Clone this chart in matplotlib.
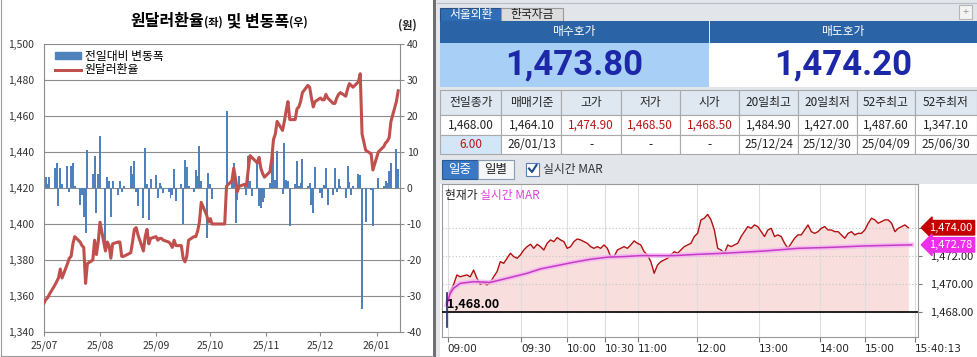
import numpy as np
import pandas as pd
import matplotlib
matplotlib.use('Agg')
import matplotlib.pyplot as plt
import matplotlib.dates as mdates
import matplotlib.transforms as mtransforms
from matplotlib.patches import Rectangle, Patch
from matplotlib.lines import Line2D
from matplotlib.ticker import FuncFormatter

plt.rcParams['font.family'] = ['Noto Sans CJK KR', 'DejaVu Sans']
plt.rcParams['axes.unicode_minus'] = False

# ---- left chart: daily USD/KRW close and day-over-day change, per month ----
rate_jul = [1356, 1358, 1359, 1361, 1366, 1368, 1370, 1375, 1370, 1378, 1381, 1382,
            1389, 1393, 1390, 1388, 1387, 1367, 1378, 1380, 1391, 1383, 1390]
rate_aug = [1401, 1385, 1390, 1388, 1381, 1389, 1390, 1390, 1382, 1382,
            1384, 1390, 1397, 1398, 1394, 1385, 1393, 1397, 1389, 1392]
rate_sep = [1393, 1391, 1392, 1392, 1391, 1390, 1389, 1387, 1391, 1388, 1388,
            1381, 1379, 1382, 1391, 1393, 1393, 1396, 1401, 1412, 1405, 1401]
rate_oct = [1403, 1400, 1400, 1400, 1400, 1400, 1400, 1421, 1424, 1431, 1425, 1418,
            1421, 1422, 1421, 1430, 1438, 1437, 1434, 1437, 1431, 1428, 1426]
rate_nov = [1429, 1436, 1447, 1450, 1457, 1452, 1457, 1463, 1468, 1458,
            1458, 1464, 1465, 1468, 1473, 1477, 1476, 1470, 1465, 1468]
rate_dec = [1470, 1469, 1469, 1472, 1470, 1467, 1467, 1470, 1472, 1473, 1471,
            1475, 1478, 1477, 1476, 1479, 1483.5, 1450, 1441, 1439, 1430]
rate_jan = [1440, 1443, 1445, 1446, 1448, 1457, 1468, 1474]

chg_jul = [6, 3, 1, 3, 5.5, 7, -5, 5.5, 1, 6, -1, 6, 7, 0.5, -4.6, -2, -8, -12.5,
           10.6, 4, 8.8, -7, 4]
chg_aug = [14.5, -17, 3, 2, -8, 2, -2, 2, -1, 0.5, 6, 4, 7.4, -1, -5, -8.3, 11, 1,
           -8.8, 2.5]
chg_sep = [3.7, -2.8, 1.4, 0.5, -1.4, -1, -2.8, -1.9, 5.3, -3.7, 1, -10, 7.9, 5.8,
           0.5, -1, 5.1, 3.2, 11.8, 2, -13.9, 4.2]
chg_oct = [1, -3, 0, 0, 0, 0, 0, 21.3, 3, 7, -9.7, -3.2, 3.4, 0.5, -1.9, 8.8, 2,
           -2.3, 7.9, -5, -5.6, -4, -2.8]
chg_nov = [1.5, 8.8, 11.6, 2.3, 10.3, -1.6, 12.5, 2.3, 1.9, -10.5, 1.2, 7.4, 0.5,
           1.4, 8, 0.5, 1.4, -4.6, -7, 5.8]
chg_dec = [-1.4, -2.8, 0.8, 5.6, -4.6, -1.9, 5.6, -1, 2.5, 0.5, -2.8, 6, 1.6, -1.9,
           0.5, 3.9, 3.7, -33.5, -9.5, -0.5, -10.5]
chg_jan = [2.8, 0.5, 1.9, 1.5, 4.6, 6.9, 10.8, 5.3]

market_closed = ['2025-08-15', '2025-12-25', '2025-12-31', '2026-01-01']

# ---- right panel: quote board ----
bid_price = 1473.80
ask_price = 1474.20
table_heads = ['전일종가', '매매기준', '고가', '저가', '시가', '20일최고', '20일최저', '52주최고', '52주최저']
table_vals = ['1,468.00', '1,464.10', '1,474.90', '1,468.50', '1,468.50', '1,484.90', '1,427.00', '1,487.60', '1,347.10']
table_dates = ['6.00', '26/01/13', '-', '-', '-', '25/12/24', '25/12/30', '25/04/09', '25/06/30']

# ---- right panel: intraday ticks (one sample every few ticks) ----
prev_close = 1468.00
prices = [1468.50, 1469.44, 1469.92, 1470.63, 1470.50, 1470.57, 1470.63, 1470.50, 1470.98, 1470.39,
          1469.95, 1470.10, 1469.92, 1470.10, 1470.50, 1470.86, 1471.58, 1471.46, 1471.82, 1472.18,
          1471.94, 1471.82, 1472.06, 1472.41, 1472.65, 1472.82, 1472.53, 1472.82, 1472.65, 1472.41,
          1472.89, 1473.13, 1473.01, 1473.30, 1473.13, 1473.01, 1472.53, 1472.65, 1473.01, 1473.20,
          1473.13, 1473.01, 1472.89, 1472.65, 1472.53, 1472.65, 1472.53, 1472.77, 1472.53, 1471.94,
          1471.94, 1472.41, 1472.53, 1472.65, 1472.53, 1472.77, 1473.06, 1472.89, 1472.77, 1472.29,
          1472.06, 1471.58, 1470.75, 1471.34, 1471.58, 1471.70, 1471.82, 1472.06, 1472.29,
          1472.18, 1472.41, 1472.65, 1472.77, 1472.89, 1473.37, 1473.60, 1474.56, 1474.68, 1474.95,
          1474.56, 1473.84, 1472.53, 1472.41, 1472.18, 1472.77, 1472.65, 1472.77, 1472.89, 1473.37,
          1473.72, 1474.08, 1473.96, 1474.20, 1474.08, 1473.72, 1473.37, 1473.84, 1473.96, 1473.37,
          1473.49, 1473.37, 1472.89, 1472.53, 1472.89, 1473.25, 1473.49, 1473.49, 1473.84, 1474.20,
          1473.72, 1473.60, 1473.72, 1473.96, 1474.08, 1473.84, 1473.84, 1473.72, 1473.72, 1473.49,
          1473.25, 1473.60, 1473.72, 1473.49, 1473.60, 1473.60, 1473.84, 1474.32, 1474.68, 1474.56,
          1474.32, 1474.44, 1474.56, 1474.56, 1474.32, 1473.72, 1473.96, 1474.08, 1474.20, 1474.00]
mar_idx = [0, 1, 2, 4, 8, 13, 18, 24, 28, 33, 38, 43, 48, 53, 58, 63, 68, 75, 83, 95, 105, 115, 125, 139]
mar_vals = [1468.50, 1469.32, 1469.68, 1470.03, 1470.15, 1470.10, 1470.39, 1470.75, 1471.06, 1471.30,
            1471.54, 1471.75, 1471.90, 1471.94, 1472.01, 1472.01, 1472.01, 1472.10, 1472.18, 1472.34,
            1472.53, 1472.60, 1472.70, 1472.78]
first_tick_range = [1466.95, 1469.35]
time_labels = ['09:00', '09:30', '10:00', '10:30', '11:00', '12:00', '13:00', '14:00', '15:00', '15:40:13']
time_idx = [0.3, 22.2, 36, 47.2, 57.1, 74.7, 93.4, 111.6, 125.1, 140]

rate = rate_jul + rate_aug + rate_sep + rate_oct + rate_nov + rate_dec + rate_jan
change = chg_jul + chg_aug + chg_sep + chg_oct + chg_nov + chg_dec + chg_jan
days = pd.bdate_range('2025-07-01', '2026-01-13')
days = days[~days.isin(pd.to_datetime(market_closed))]

W, H = 978, 357
fig = plt.figure(figsize=(W / 100, H / 100), dpi=100)
fig.patch.set_facecolor('white')


def fx(x):
    return x / W


def fy(y):
    return 1 - y / H


def rect(x0, y0, x1, y1, fc, ec='none', lw=0.8, z=-1):
    fig.add_artist(Rectangle((fx(x0), fy(y1)), (x1 - x0) / W, (y1 - y0) / H,
                             transform=fig.transFigure, facecolor=fc, edgecolor=ec,
                             linewidth=lw, zorder=z))


def label(x, y, s, **kw):
    kw.setdefault('ha', 'center')
    kw.setdefault('va', 'center')
    return fig.text(fx(x), fy(y), s, zorder=3, **kw)


def run_text(x, y, parts, center=False):
    # several pieces of text set one after another on one baseline
    r = fig.canvas.get_renderer()
    items = []
    for s, kw in parts:
        t = fig.text(0, fy(y), s, ha='left', va='baseline', zorder=3, **kw)
        items.append((t, t.get_window_extent(r).width))
    total = sum(w for _, w in items)
    cur = x - total / 2 if center else x
    for t, w in items:
        t.set_x(fx(cur))
        cur += w


# ================= left: Excel chart =================
ax_bar = fig.add_axes([fx(44), fy(332), (400 - 44) / W, (332 - 44) / H])
ax_rate = ax_bar.twinx()
ax_bar.yaxis.tick_right()
ax_rate.yaxis.tick_left()

ax_bar.bar(days, change, width=1.1, color='#4f81bd', zorder=2)
ax_bar.set_ylim(-40, 40)
ax_bar.set_yticks(np.arange(-40, 41, 10))
ax_bar.grid(axis='y', color='#8c8c8c', lw=0.8)
ax_bar.set_axisbelow(True)

ax_rate.plot(days, rate, color='#c0504d', lw=2.2, solid_joinstyle='round')
ax_rate.set_ylim(1340, 1500)
ax_rate.set_yticks(np.arange(1340, 1501, 20))
ax_rate.yaxis.set_major_formatter(FuncFormatter(lambda v, p: f'{v:,.0f}'))

ax_bar.set_xlim(pd.Timestamp('2025-07-01'), pd.Timestamp('2026-01-14'))
ax_bar.xaxis.set_major_locator(mdates.MonthLocator())
ax_bar.xaxis.set_major_formatter(mdates.DateFormatter('%y/%m'))

for a in (ax_bar, ax_rate):
    for s in a.spines.values():
        s.set_visible(False)
for side in ('left', 'right', 'bottom'):
    ax_bar.spines[side].set_visible(True)
    ax_bar.spines[side].set_color('#8c8c8c')
    ax_bar.spines[side].set_linewidth(0.8)
ax_bar.tick_params(axis='y', labelsize=7.5, colors='#8c8c8c', labelcolor='#333333',
                   length=3, pad=2)
ax_bar.tick_params(axis='x', labelsize=7.5, colors='#8c8c8c', labelcolor='#333333',
                   length=3, pad=3)
ax_rate.tick_params(axis='y', labelsize=7.5, labelcolor='#333333', length=0, pad=7)

ax_rate.legend(handles=[Patch(color='#4f81bd'), Line2D([], [], color='#c0504d', lw=2.2)],
               labels=['전일대비 변동폭', '원달러환율'], loc='upper left',
               bbox_to_anchor=(0.015, 1.0), frameon=False, fontsize=8.5,
               handlelength=2.2, handleheight=0.55, handletextpad=0.3,
               labelspacing=0.05, borderaxespad=0.1)

run_text(219, 26, [('원달러환율', dict(fontsize=11.5, fontweight='bold')),
                   ('(좌)', dict(fontsize=8, fontweight='bold')),
                   (' 및 변동폭', dict(fontsize=11.5, fontweight='bold')),
                   ('(우)', dict(fontsize=8, fontweight='bold'))], center=True)
label(407, 25, '(원)', fontsize=8, fontweight='bold', color='#222222')

# spreadsheet frame and separator
fig.add_artist(Line2D([fx(1), fx(1)], [fy(0), fy(355.5)], transform=fig.transFigure,
                      color='#9a9a9a', lw=0.8))
fig.add_artist(Line2D([fx(1), fx(433)], [fy(355.5), fy(355.5)], transform=fig.transFigure,
                      color='#9a9a9a', lw=0.8))
rect(433, 0, 436.5, 357, '#6f6f6f')

# ================= right: quote board =================
rect(436.5, 0, 978, 357, '#e2e5ea', z=-2)
fig.add_artist(Line2D([fx(437), fx(978)], [fy(2.5), fy(2.5)], transform=fig.transFigure,
                      color='#b9bec6', lw=0.8))

rect(440, 7.5, 501.5, 21, '#2f6db5', ec='#2a4f80')
label(471, 14.5, '서울외환', fontsize=8.5, color='white')
rect(501.5, 7.5, 563, 21, '#dcdcdc', ec='#9a9a9a')
label(532, 14.5, '한국자금', fontsize=8.5, color='#222222')
rect(959, 5, 972, 19, '#f4f4f4', ec='#b5b5b5')
label(965.5, 12, '+', fontsize=8, color='#9a9a9a')

rect(440, 21, 709, 43, '#2b64a6')
rect(709.5, 21, 977, 43, '#2b64a6')
label(574, 32, '매수호가', fontsize=8.5, color='white')
label(843, 32, '매도호가', fontsize=8.5, color='white')
rect(440, 43, 709, 86.5, '#a8cff5')
rect(709, 43, 977, 86.5, 'white')
label(574, 65, f'{bid_price:,.2f}', family='Roboto', fontsize=25, fontweight='bold',
      color='#1c28a8')
label(843, 65, f'{ask_price:,.2f}', family='Roboto', fontsize=25, fontweight='bold',
      color='#1c28a8')

col_edges = [440.2, 501.5, 561.4, 620.9, 679.8, 739, 797.9, 856.7, 914.6, 976.9]
row_edges = [90, 115, 135, 154]
red_cols = [2, 3, 4]
for i in range(len(table_heads)):
    x0, x1 = col_edges[i], col_edges[i + 1]
    xc = (x0 + x1) / 2
    rect(x0, row_edges[0], x1, row_edges[1], '#dfe7f1', ec='#a9a9a9')
    rect(x0, row_edges[1], x1, row_edges[2], 'white', ec='#a9a9a9')
    rect(x0, row_edges[2], x1, row_edges[3], '#d3e6f8' if i == 0 else 'white', ec='#a9a9a9')
    label(xc, 102.5, table_heads[i], fontsize=8.5, color='#222222')
    label(xc, 125, table_vals[i], fontsize=8.5,
          color='#b81414' if i in red_cols else '#222222')
    label(xc, 144.5, table_dates[i], fontsize=8.5,
          color='#b81414' if i == 0 else '#222222')

rect(442, 159.5, 478, 178.5, '#3a78c4', ec='#2b5a93')
label(460, 169, '일중', fontsize=9, color='white')
rect(478, 159.5, 514, 178.5, '#f4f6f8', ec='#8c9bb0')
label(496, 169, '일별', fontsize=9, color='#222222')
rect(526, 162.5, 539, 175.5, 'white', ec='#5b7fb0')
fig.add_artist(Line2D([fx(529), fx(532), fx(536.5)], [fy(168.5), fy(172), fy(165)],
                      transform=fig.transFigure, color='#1d4a8a', lw=1.5, zorder=3))
label(543, 169, '실시간 MAR', ha='left', fontsize=8.5, color='#333333')

# intraday chart widget
rect(440, 183.5, 978, 357, 'white')
ax_day = fig.add_axes([fx(442), fy(337.3), (918 - 442) / W, (337.3 - 184.3) / H])
ax_day.set_zorder(1)
idx = np.arange(len(prices))
ax_day.fill_between(idx, prices, prev_close, color='#f9dede', lw=0)
ax_day.plot(idx, prices, color='#b30f0f', lw=1.0, zorder=3)
ax_day.plot(mar_idx, mar_vals, color='#f6b4f1', lw=3.5, alpha=0.8, zorder=4)
ax_day.plot(mar_idx, mar_vals, color='#c43bc4', lw=1.1, zorder=5)
ax_day.axhline(prev_close, color='black', lw=1.2, zorder=6)
ax_day.plot([0, 0], first_tick_range, color='#1f2a6e', lw=1.2, zorder=6)
ax_day.text(0, prev_close + 0.12, f'{prev_close:,.2f}', ha='left', va='bottom',
            fontsize=9, fontweight='bold', color='black', zorder=7)

ax_day.set_xlim(-1.45, 140.9)
ax_day.set_ylim(1466.18, 1477.1)
ax_day.set_xticks(time_idx, time_labels)
for t in ax_day.get_xticklabels():
    t.set_ha('left')
    t.set_family('DejaVu Sans')
ax_day.set_yticks([1468, 1470, 1472, 1474])
ax_day.set_yticklabels(['1,468.00', '1,470.00', '1,472.00', ''])
ax_day.yaxis.tick_right()
ax_day.grid(axis='x', color='#dddddd', lw=0.8)
ax_day.grid(axis='y', color='#c4c4c4', lw=0.8, ls=(0, (1, 2)))
ax_day.tick_params(axis='x', labelsize=7.5, colors='#777777', labelcolor='#222222',
                   length=3.5, pad=1)
ax_day.tick_params(axis='y', labelsize=8, colors='#777777', labelcolor='#222222',
                   length=3, pad=6)
for s in ax_day.spines.values():
    s.set_color('#9a9a9a')
    s.set_linewidth(0.8)

blend = mtransforms.blended_transform_factory(ax_day.transAxes, ax_day.transData)
for val, col in [(prices[-1], '#c40000'), (mar_vals[-1], '#ee2eea')]:
    ax_day.annotate(f'{val:,.2f}', xy=(1, val), xycoords=blend, xytext=(8, 0),
                    textcoords='offset points', ha='left', va='center', fontsize=8,
                    color='white', annotation_clip=False, zorder=8,
                    bbox=dict(boxstyle='larrow,pad=0.2', fc=col, ec=col))

run_text(445, 199.5, [('현재가 ', dict(fontsize=8.5, color='#222222')),
                      ('실시간 MAR', dict(fontsize=8.5, color='#e040e0'))])

fig.savefig('out.png', dpi=100)
